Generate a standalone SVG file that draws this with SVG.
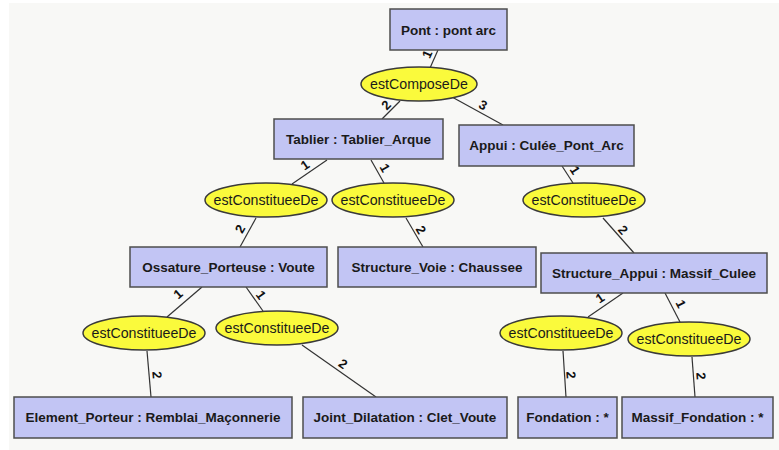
<svg xmlns="http://www.w3.org/2000/svg" width="779" height="450" viewBox="0 0 779 450">
<style>
.box{fill:#c2c5f4;stroke:#4d4d4d;stroke-width:1.5}
.ell{fill:#fafa3c;stroke:#3a3a3a;stroke-width:1.5}
.bt{font-family:"Liberation Sans",Arial,sans-serif;font-size:13.5px;font-weight:bold;fill:#1a1a1a;text-anchor:middle}
.et{font-family:"Liberation Sans",Arial,sans-serif;font-size:14.2px;fill:#1a1a1a;text-anchor:middle}
.ln{stroke:#333;stroke-width:1.2;fill:none}
.lb{font-family:"Liberation Sans",Arial,sans-serif;font-size:13px;font-weight:bold;fill:#111;text-anchor:middle;dominant-baseline:central}
</style>
<rect x="0" y="0" width="779" height="450" fill="#ffffff"/>
<rect x="9" y="3" width="770" height="447" fill="#f8f8f6"/>
<g id="connectors">
<line class="ln" x1="438" y1="50" x2="430" y2="68"/>
<line class="ln" x1="400" y1="101" x2="382" y2="119"/>
<line class="ln" x1="452" y1="97" x2="503" y2="125"/>
<line class="ln" x1="327" y1="160" x2="292" y2="184"/>
<line class="ln" x1="371" y1="160" x2="384" y2="183"/>
<line class="ln" x1="256" y1="218" x2="240" y2="247"/>
<line class="ln" x1="406" y1="218" x2="423" y2="247"/>
<line class="ln" x1="562" y1="166" x2="573" y2="183"/>
<line class="ln" x1="603" y1="218" x2="634" y2="253"/>
<line class="ln" x1="202" y1="287" x2="167" y2="317"/>
<line class="ln" x1="246" y1="287" x2="263" y2="311"/>
<line class="ln" x1="147" y1="351" x2="151" y2="397"/>
<line class="ln" x1="302" y1="345" x2="376" y2="397"/>
<line class="ln" x1="623" y1="293" x2="588" y2="317"/>
<line class="ln" x1="665" y1="293" x2="680" y2="322"/>
<line class="ln" x1="563" y1="351" x2="566" y2="397"/>
<line class="ln" x1="692" y1="357" x2="695" y2="397"/>
<text class="lb" transform="translate(427,54) rotate(-66)">1</text>
<text class="lb" transform="translate(386,105) rotate(-45)">2</text>
<text class="lb" transform="translate(483,105) rotate(29)">3</text>
<text class="lb" transform="translate(305,165) rotate(-34)">1</text>
<text class="lb" transform="translate(385,168) rotate(60)">1</text>
<text class="lb" transform="translate(240,229) rotate(-61)">2</text>
<text class="lb" transform="translate(421,230) rotate(60)">2</text>
<text class="lb" transform="translate(575,170) rotate(57)">1</text>
<text class="lb" transform="translate(623,230) rotate(48)">2</text>
<text class="lb" transform="translate(178,294) rotate(-41)">1</text>
<text class="lb" transform="translate(261,295) rotate(54)">1</text>
<text class="lb" transform="translate(157,375) rotate(85)">2</text>
<text class="lb" transform="translate(343,364) rotate(35)">2</text>
<text class="lb" transform="translate(600,298) rotate(-34)">1</text>
<text class="lb" transform="translate(681,304) rotate(63)">1</text>
<text class="lb" transform="translate(571,375) rotate(86)">2</text>
<text class="lb" transform="translate(701,376) rotate(86)">2</text>
</g>
<g id="pont"><rect class="box" x="390" y="9" width="117" height="41"/><text class="bt" x="448.5" y="34.5">Pont : pont arc</text></g>
<g id="estComposeDe"><ellipse class="ell" cx="419" cy="84" rx="58" ry="17"/><text class="et" x="419" y="89">estComposeDe</text></g>
<g id="tablier"><rect class="box" x="274" y="119" width="169" height="40"/><text class="bt" x="358.5" y="144">Tablier : Tablier_Arque</text></g>
<g id="appui"><rect class="box" x="459" y="125" width="175" height="41"/><text class="bt" x="546.5" y="150">Appui : Culée_Pont_Arc</text></g>
<g id="ec1"><ellipse class="ell" cx="266" cy="200" rx="61" ry="17"/><text class="et" x="266" y="205">estConstitueeDe</text></g>
<g id="ec2"><ellipse class="ell" cx="393" cy="200" rx="61" ry="17"/><text class="et" x="393" y="205">estConstitueeDe</text></g>
<g id="ec3"><ellipse class="ell" cx="584" cy="200" rx="61" ry="17"/><text class="et" x="584" y="205">estConstitueeDe</text></g>
<g id="ossature"><rect class="box" x="130" y="247" width="197" height="40"/><text class="bt" x="228.5" y="272">Ossature_Porteuse : Voute</text></g>
<g id="structureVoie"><rect class="box" x="338" y="247" width="198" height="40"/><text class="bt" x="437" y="272">Structure_Voie : Chaussee</text></g>
<g id="structureAppui"><rect class="box" x="541" y="253" width="226" height="40"/><text class="bt" x="654" y="278">Structure_Appui : Massif_Culee</text></g>
<g id="ec4"><ellipse class="ell" cx="144" cy="333" rx="61" ry="17"/><text class="et" x="144" y="338">estConstitueeDe</text></g>
<g id="ec5"><ellipse class="ell" cx="277" cy="328" rx="61" ry="17"/><text class="et" x="277" y="333">estConstitueeDe</text></g>
<g id="ec6"><ellipse class="ell" cx="561" cy="333" rx="61" ry="17"/><text class="et" x="561" y="338">estConstitueeDe</text></g>
<g id="ec7"><ellipse class="ell" cx="689" cy="339" rx="61" ry="17"/><text class="et" x="689" y="344">estConstitueeDe</text></g>
<g id="elementPorteur"><rect class="box" x="14" y="397" width="278" height="41"/><text class="bt" x="153" y="422">Element_Porteur : Remblai_Maçonnerie</text></g>
<g id="jointDilatation"><rect class="box" x="303" y="397" width="204" height="41"/><text class="bt" x="405" y="422">Joint_Dilatation : Clet_Voute</text></g>
<g id="fondation"><rect class="box" x="518" y="397" width="99" height="41"/><text class="bt" x="567.5" y="422">Fondation : *</text></g>
<g id="massifFondation"><rect class="box" x="622" y="397" width="151" height="41"/><text class="bt" x="697.5" y="422">Massif_Fondation : *</text></g>
</svg>
